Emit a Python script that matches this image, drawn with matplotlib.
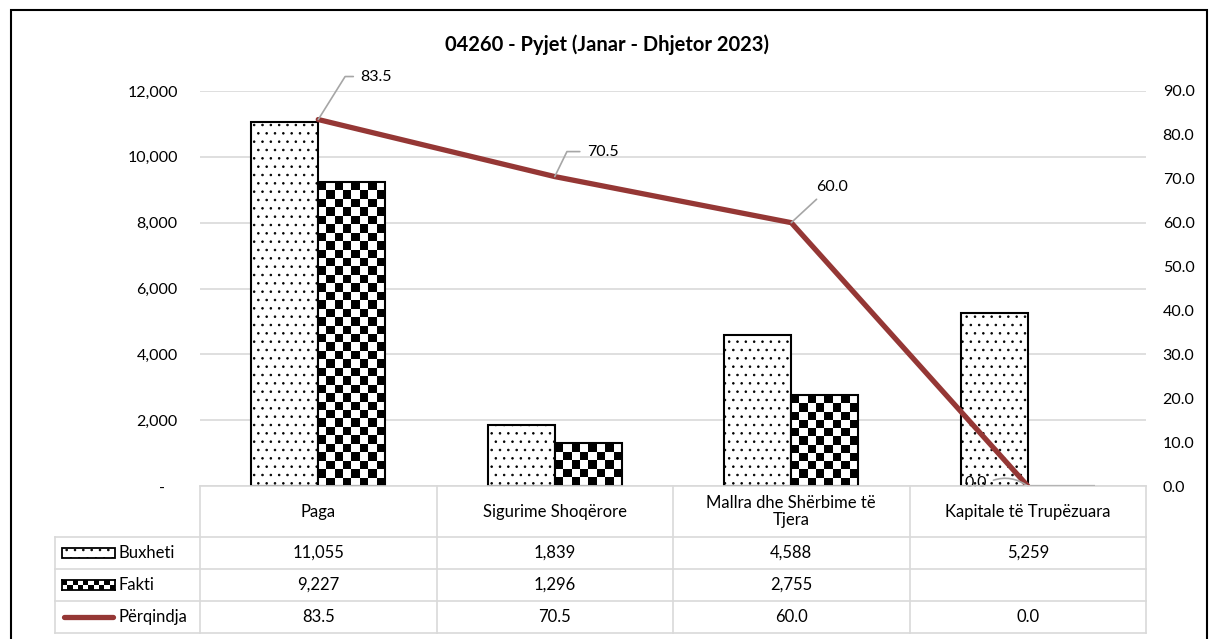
import numpy as np
import matplotlib.pyplot as plt
from matplotlib.patches import Rectangle
from matplotlib.lines import Line2D

# data
categories = ["Paga", "Sigurime Shoqërore", "Mallra dhe Shërbime të\nTjera", "Kapitale të Trupëzuara"]
buxheti = [11055, 1839, 4588, 5259]
fakti = [9227, 1296, 2755, np.nan]
perqindja = [83.5, 70.5, 60.0, 0.0]
series_names = ["Buxheti", "Fakti", "Përqindja"]
title = "04260 - Pyjet (Janar - Dhjetor 2023)"

W, H = 1209, 639
RED = '#953735'
GRID = '#d9d9d9'
FS = 12
plt.rcParams['font.family'] = ['Lato', 'DejaVu Sans']
plt.rcParams['hatch.linewidth'] = 0.6

fig = plt.figure(figsize=(W / 100, H / 100), dpi=100)

# plot area in pixels (left, right, top, bottom)
pl, pr, pt, pb = 200, 1146, 91, 486
ax = fig.add_axes([pl / W, 1 - pb / H, (pr - pl) / W, (pb - pt) / H])

x = np.arange(len(categories))
w = 0.283
ax.set_xlim(-0.5, len(categories) - 0.5)
ax.set_ylim(0, 12000)

# Buxheti bars: dotted
ax.bar(x - w / 2, buxheti, w, facecolor='white', edgecolor='black',
       hatch='..', linewidth=1.5, zorder=3)

# Fakti bars: checkerboard clipped inside each bar
fakti_bars = ax.bar(x + w / 2, np.nan_to_num(fakti), w, facecolor='none',
                    edgecolor='black', linewidth=1.5, zorder=4)
px_per_unit = (pb - pt) / 12000
bar_px = w * (pr - pl) / len(categories)
nx = 8
for bar, h in zip(fakti_bars, fakti):
    if np.isnan(h) or h <= 0:
        continue
    ny = max(1, int(round(h * px_per_unit / (bar_px / nx))))
    ii, jj = np.indices((ny, nx))
    chk = (ii + jj) % 2
    x0 = bar.get_x()
    im = ax.imshow(chk, cmap='gray', vmin=0, vmax=1, interpolation='nearest',
                   extent=[x0, x0 + w, 0, h], aspect='auto', zorder=3)
    im.set_clip_path(bar)
ax.set_xlim(-0.5, len(categories) - 0.5)
ax.set_ylim(0, 12000)

ax.set_yticks(np.arange(0, 12001, 2000))
ax.set_yticklabels(['-   '] + [f'{v:,.0f}' for v in np.arange(2000, 12001, 2000)])
ax.set_xticks([])
ax.grid(axis='y', color=GRID, linewidth=1.2)
ax.set_axisbelow(True)
ax.tick_params(axis='y', length=0, pad=16, labelsize=11.5)
for s in ax.spines.values():
    s.set_visible(False)

# Përqindja line on secondary axis
ax2 = ax.twinx()
ax2.set_xlim(-0.5, len(categories) - 0.5)
ax2.set_ylim(0, 90)
ax2.set_yticks(np.arange(0, 91, 10))
ax2.set_yticklabels([f'{v:.1f}' for v in np.arange(0, 91, 10)])
ax2.tick_params(axis='y', length=0, pad=12, labelsize=11.5)
for s in ax2.spines.values():
    s.set_visible(False)
ax2.plot(x, perqindja, color=RED, linewidth=3.8, solid_capstyle='round',
         solid_joinstyle='miter', zorder=5)

# data labels with leader lines (offsets in pixels)
label_offsets = [(42, 43), (32, 25), (25, 36), (-41, 3)]
label_conn = ['angle,angleA=0,angleB=58', 'angle,angleA=0,angleB=64',
              'arc3,rad=0', 'arc3,rad=-0.3']
label_relpos = [(0, 0.5), (0, 0.5), (0.2, 0), (1, 0.5)]
label_ha = ['left', 'left', 'left', 'right']
for xi, v, off, cs, rp, ha in zip(x, perqindja, label_offsets, label_conn,
                                   label_relpos, label_ha):
    ax2.annotate(f'{v:.1f}', (xi, v), xytext=off, textcoords='offset pixels',
                 ha=ha, va='center', fontsize=11.5,
                 arrowprops=dict(arrowstyle='-', color='#a6a6a6', lw=1.2,
                                 connectionstyle=cs, relpos=rp,
                                 shrinkA=3, shrinkB=0),
                 zorder=6)

# title
fig.text(607 / W, 1 - 45 / H, title, ha='center', va='center',
         fontsize=14.5, fontweight='bold')

# data table under the chart
col_px = ax.transData.transform([(i - 0.5, 0) for i in range(len(categories) + 1)])[:, 0]
rows_px = [486, 537, 569, 601, 633]
leg_l = 55


def fx(px):
    return px / W


def fy(py):
    return 1 - py / H


tkw = dict(color=GRID, linewidth=1.2, transform=fig.transFigure, clip_on=False)
fig.add_artist(Line2D([fx(col_px[0]), fx(col_px[-1])], [fy(rows_px[0])] * 2, **tkw))
for r in rows_px[1:]:
    fig.add_artist(Line2D([fx(leg_l), fx(col_px[-1])], [fy(r)] * 2, **tkw))
fig.add_artist(Line2D([fx(leg_l)] * 2, [fy(rows_px[1]), fy(rows_px[-1])], **tkw))
for c in col_px:
    fig.add_artist(Line2D([fx(c)] * 2, [fy(rows_px[0]), fy(rows_px[-1])], **tkw))

# header row
for i, cat in enumerate(categories):
    fig.text(fx((col_px[i] + col_px[i + 1]) / 2), fy((rows_px[0] + rows_px[1]) / 2),
             cat, ha='center', va='center', fontsize=FS, linespacing=1.05)

row_values = [
    [f'{v:,.0f}' for v in buxheti],
    ['' if np.isnan(v) else f'{v:,.0f}' for v in fakti],
    [f'{v:.1f}' for v in perqindja],
]
for r, vals in enumerate(row_values):
    yc = fy((rows_px[r + 1] + rows_px[r + 2]) / 2)
    for i, s in enumerate(vals):
        fig.text(fx((col_px[i] + col_px[i + 1]) / 2), yc, s,
                 ha='center', va='center', fontsize=FS)
    fig.text(fx(119), yc, series_names[r], ha='left', va='center', fontsize=FS)

# legend keys in the table
sw_l, sw_r, sw_h = 62, 115, 10
yc0 = (rows_px[1] + rows_px[2]) / 2
fig.add_artist(Rectangle((fx(sw_l), fy(yc0 + sw_h / 2)), fx(sw_r - sw_l), sw_h / H,
                         facecolor='white', edgecolor='black', hatch='..',
                         linewidth=1.3, transform=fig.transFigure))
yc1 = (rows_px[2] + rows_px[3]) / 2
kax = fig.add_axes([fx(sw_l), fy(yc1 + sw_h / 2), fx(sw_r - sw_l), sw_h / H])
ii, jj = np.indices((2, 10))
kax.imshow((ii + jj) % 2, cmap='gray', vmin=0, vmax=1, aspect='auto',
           interpolation='nearest')
kax.set_xticks([])
kax.set_yticks([])
for s in kax.spines.values():
    s.set_linewidth(1.3)
yc2 = (rows_px[3] + rows_px[4]) / 2
fig.add_artist(Line2D([fx(sw_l + 2), fx(sw_r - 2)], [fy(yc2)] * 2, color=RED,
                      linewidth=3.8, solid_capstyle='round',
                      transform=fig.transFigure))

# outer frame
fig.add_artist(Rectangle((fx(11), -0.05), fx(1207 - 11), fy(10) + 0.05,
                         fill=False, edgecolor='black', linewidth=1.5,
                         transform=fig.transFigure, clip_on=False))

fig.savefig('out.png', dpi=100)
